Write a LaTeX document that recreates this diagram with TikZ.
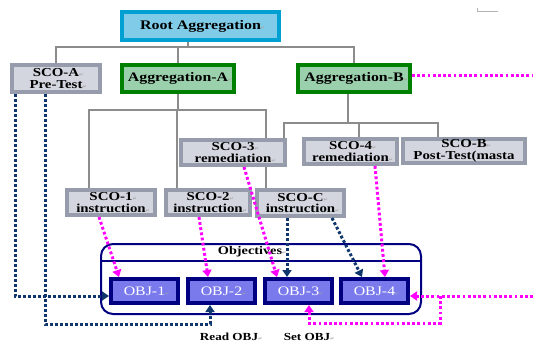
\documentclass[tikz,border=0pt]{standalone}
\usepackage{fontspec}
\setmainfont{Liberation Serif}[FakeStretch=1.22]
\newfontfamily\dejavu{DejaVu Sans}
\usetikzlibrary{arrows.meta,backgrounds}
\definecolor{rootborder}{RGB}{0,160,210}
\definecolor{rootfill}{RGB}{128,204,232}
\definecolor{aggborder}{RGB}{0,128,0}
\definecolor{aggfill}{RGB}{155,208,172}
\definecolor{scoborder}{RGB}{150,156,172}
\definecolor{scofill}{RGB}{211,214,223}
\definecolor{objborder}{RGB}{0,0,128}
\definecolor{objfill}{RGB}{122,122,236}
\definecolor{navydot}{RGB}{15,55,110}
\definecolor{magdot}{RGB}{255,0,255}
\definecolor{treegray}{RGB}{140,140,140}
\newcommand\retmark{\rlap{{\dejavu\fontsize{5}{5}\selectfont\textcolor{black!35}{↵}}}}
\tikzset{
 boxbase/.style={inner sep=0pt, align=center, font=\bfseries\fontsize{12.2}{11.6}\selectfont},
 rootbox/.style={boxbase, draw=rootborder, fill=rootfill, line width=4pt, font=\bfseries\fontsize{13.1}{13}\selectfont},
 aggbox/.style={boxbase, draw=aggborder, fill=aggfill, line width=4pt, font=\bfseries\fontsize{13}{13}\selectfont, minimum width=112pt, minimum height=27pt},
 scobox/.style={boxbase, draw=scoborder, fill=scofill, line width=4pt},
 objbox/.style={inner sep=0pt, draw=objborder, fill=objfill, line width=4pt, text=white, font=\fontsize{13}{13}\selectfont, minimum width=67pt, minimum height=24pt},
 framebox/.style={draw=objborder, line width=2pt, rounded corners=12pt, minimum width=320pt, minimum height=70pt, inner sep=0pt},
 lbltext/.style={inner sep=0pt, font=\bfseries\fontsize{10.8}{10.8}\selectfont},
 tree/.style={draw=treegray, line width=2pt},
 navyline/.style={draw=navydot, line width=3pt, dash pattern=on 2.8pt off 2.2pt, -{Triangle[width=9pt,length=7pt]}},
 magline/.style={draw=magdot, line width=3pt, dash pattern=on 2.8pt off 2.4pt, -{Triangle[width=9pt,length=7pt]}},
 magplain/.style={draw=magdot, line width=3pt, dash pattern=on 2.8pt off 2.4pt}
}
\begin{document}
\begin{tikzpicture}[x=1pt,y=-1pt]
\useasboundingbox (0,0) rectangle (533,343);
% small grey mark top right
\draw[black!30, line width=0.8pt] (477,8) -- (477,11) -- (498,11);
% nodes
\node[rootbox, minimum width=157pt, minimum height=28pt] (root) at (200.5,26) {Root Aggregation\retmark};
\node[scobox, minimum width=88pt, minimum height=27pt] (scoA) at (56,78.5) {SCO-A\retmark\\Pre-Test\retmark};
\node[aggbox] (aggA) at (178,78.5) {Aggregation-A\retmark};
\node[aggbox] (aggB) at (354,78.5) {Aggregation-B\retmark};
\node[scobox, minimum width=104pt, minimum height=25pt] (sco3) at (233,152.5) {SCO-3\retmark\\remediation\retmark};
\node[scobox, minimum width=93pt, minimum height=25pt] (sco4) at (350.5,151.5) {SCO-4\retmark\\remediation\retmark};
\node[scobox, minimum width=122pt, minimum height=24pt] (scoB) at (464,151) {SCO-B\retmark\\Post-Test(masta};
\node[scobox, minimum width=88pt, minimum height=25pt] (sco1) at (111,202.5) {SCO-1\retmark\\instruction\retmark};
\node[scobox, minimum width=84pt, minimum height=25pt] (sco2) at (208,202.5) {SCO-2\retmark\\instruction\retmark};
\node[scobox, minimum width=87pt, minimum height=26pt] (scoC) at (300.5,203) {SCO-C\retmark\\instruction\retmark};
% objectives container
\node[framebox] (objs) at (261,279) {};
\coordinate (sepL) at (101,261);
\coordinate (sepR) at (421,261);
\draw[objborder, line width=2pt] (sepL) -- (sepR);
\node[lbltext, font=\bfseries\fontsize{11.7}{11.7}\selectfont] (objt) at (250,252) {Objectives\retmark};
\node[objbox] (obj1) at (144.5,291) {OBJ-1\retmark};
\node[objbox] (obj2) at (221.5,291) {OBJ-2\retmark};
\node[objbox] (obj3) at (298.5,291) {OBJ-3\retmark};
\node[objbox] (obj4) at (374.5,291) {OBJ-4\retmark};
\node[lbltext] (readl) at (229,337) {Read OBJ\retmark};
\node[lbltext] (setl) at (307,337) {Set OBJ\retmark};
% tree connectors
\begin{scope}[on background layer]
\fill[white] (0,0) rectangle (533,343);
\coordinate (j0) at (188,47);
\draw[tree] ([xshift=-12.5]root.south) -- (j0);
\draw[tree] (scoA.north) |- (j0) -| (aggB.north);
\draw[tree] (aggA.north) -- (aggA.north |- j0);
\coordinate (j1) at (178,110);
\draw[tree] (aggA.south) -- (j1);
\draw[tree] ([xshift=-22]sco1.north) |- (j1) -| ([xshift=-34.5]scoC.north);
\coordinate (s2t) at ([xshift=-31]sco2.north);
\draw[tree] (s2t) -- (s2t |- j1);
\coordinate (j2) at (348,123);
\draw[tree] ([xshift=-6]aggB.south) -- (j2);
\draw[tree] ([xshift=51]sco3.north) |- (j2) -| ([xshift=-26]scoB.north);
\coordinate (s4t) at ([xshift=8.5]sco4.north);
\draw[tree] (s4t) -- (s4t |- j2);
\end{scope}
% navy dotted connectors
\draw[navyline] ([xshift=-41]scoA.south) |- ([yshift=-5]obj1.west);
\draw[navyline] ([xshift=-11]scoA.south) |- ([xshift=-11.5,yshift=-19]obj2.south) -- ([xshift=-11.5]obj2.south);
\draw[navyline] ([xshift=-13.5]scoC.south) -- ([xshift=-11.5]obj3.north);
\draw[navyline] ([xshift=31.5]scoC.south) -- ([xshift=-12.5]obj4.north);
% magenta dotted connectors
\draw[magline] ([xshift=-12]sco1.south) -- ([xshift=-25.5]obj1.north);
\draw[magline] ([xshift=-9]sco2.south) -- ([xshift=-13.5]obj2.north);
\draw[magline] ([xshift=11]sco3.south) -- ([xshift=-21.5]obj3.north);
\draw[magline] ([xshift=24.5]sco4.south) -- ([xshift=10.5]obj4.north);
\coordinate (eB) at (532,75);
\draw[magplain] ([yshift=3.5]aggB.east) -- (eB);
\coordinate (eR) at (533,296);
\draw[magline] (eR) -- ([yshift=-5]obj4.east);
\coordinate (br) at (440,296);
\draw[magline] (br) |- ([xshift=10.5,yshift=-18]obj3.south) -- ([xshift=10.5]obj3.south);
\end{tikzpicture}
\end{document}
